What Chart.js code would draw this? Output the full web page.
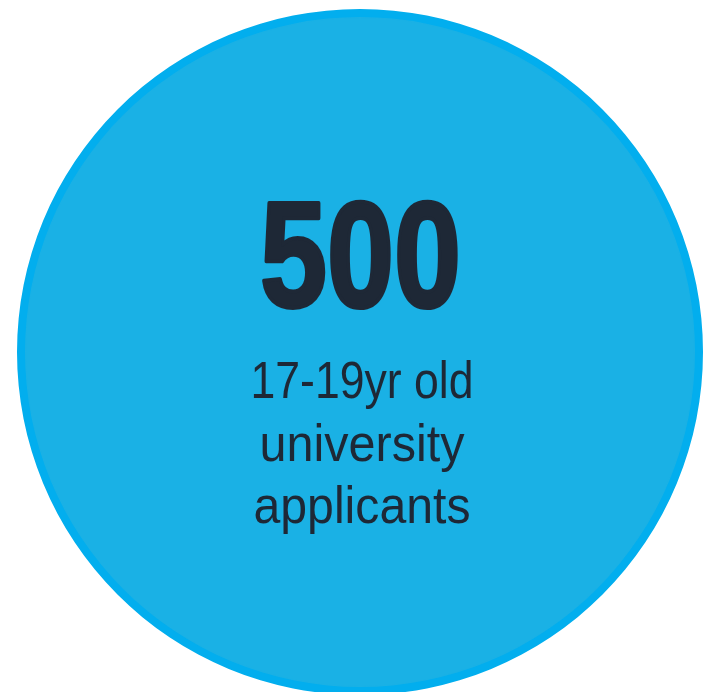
<!DOCTYPE html>
<html>
<head>
<meta charset="utf-8">
<script src="https://cdn.jsdelivr.net/npm/chart.js@4"></script>
<style>
html,body{margin:0;padding:0;background:#fff;}
#wrap{position:relative;width:705px;height:692px;}
</style>
</head>
<body>
<div id="wrap"><canvas id="c" width="705" height="692"></canvas></div>
<script>
const categories = ["17-19yr old university applicants"];
const values = [500];
const headline = "500";
const captionLines = ["17-19yr old", "university", "applicants"];

const centerText = {
  id: 'centerText',
  afterDatasetsDraw(chart) {
    const arc = chart.getDatasetMeta(0).data[0];
    const ctx = chart.ctx;
    const cx = arc.x;
    ctx.save();
    ctx.fillStyle = '#1E2836';
    ctx.strokeStyle = '#1E2836';
    ctx.textAlign = 'center';
    ctx.textBaseline = 'alphabetic';
    ctx.font = 'bold 151px "Liberation Sans", Arial, sans-serif';
    ctx.lineWidth = 4;
    ctx.lineJoin = 'round';
    ctx.fillText(headline, cx + 0.5, 307, 201);
    ctx.strokeText(headline, cx + 0.5, 307, 201);
    ctx.font = '52px "Liberation Sans", Arial, sans-serif';
    const ys = [398, 461, 523];
    const widths = [223, 205, 217];
    captionLines.forEach((t, i) => ctx.fillText(t, cx + 2, ys[i], widths[i]));
    ctx.restore();
  }
};

new Chart(document.getElementById('c'), {
  type: 'pie',
  data: {
    labels: categories,
    datasets: [
      { data: values, backgroundColor: '#02AEEE', borderWidth: 0, weight: 8 },
      { data: values, backgroundColor: '#1AB1E5', borderColor: '#1AB1E5', borderWidth: 2, weight: 335 }
    ]
  },
  options: {
    responsive: false,
    animation: false,
    radius: 343,
    layout: { padding: { left: 15, top: 12 } },
    plugins: { legend: { display: false }, tooltip: { enabled: false } }
  },
  plugins: [centerText]
});
</script>
</body>
</html>
